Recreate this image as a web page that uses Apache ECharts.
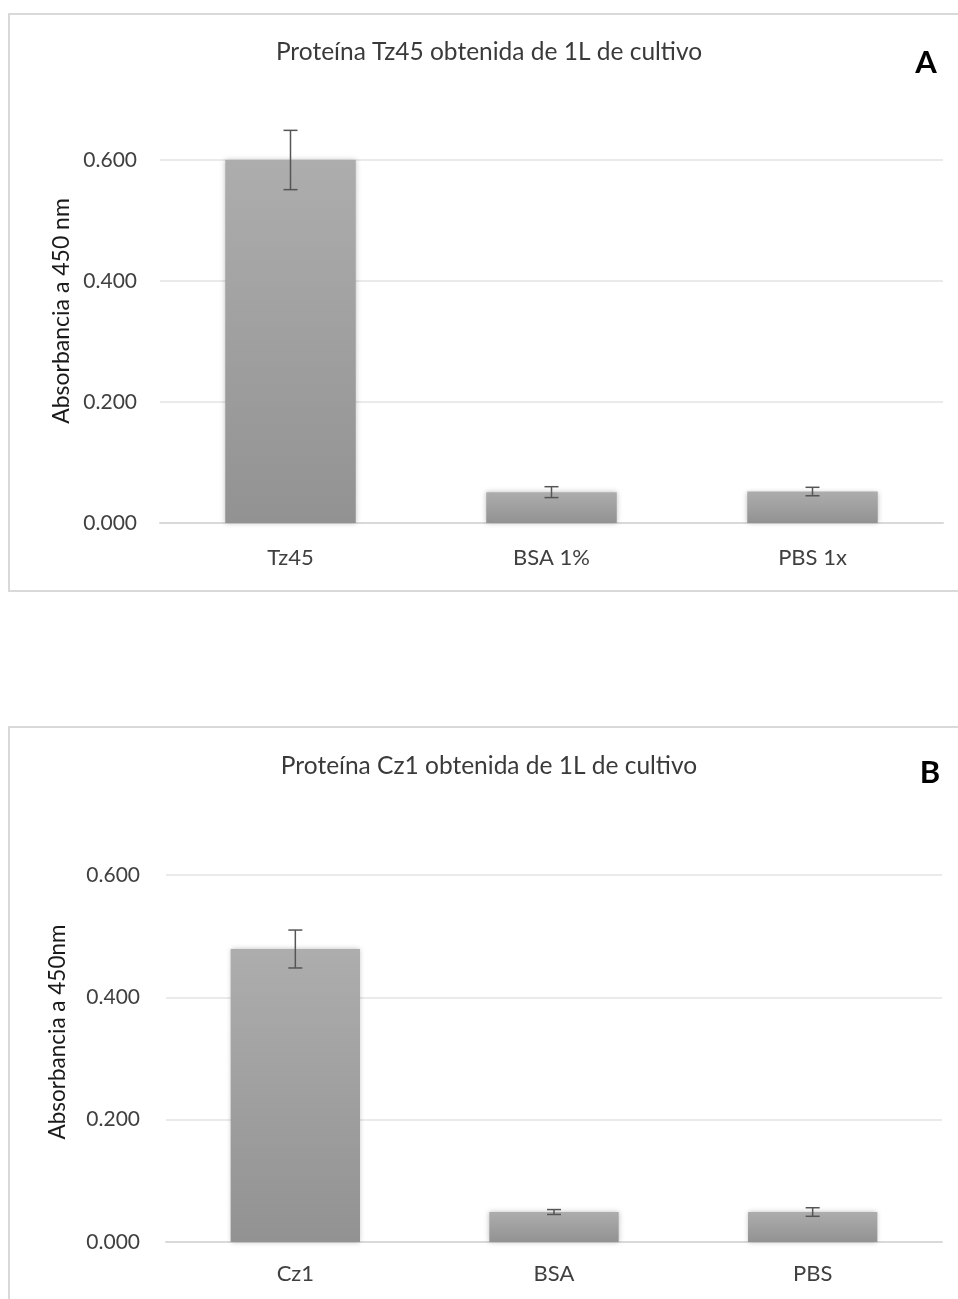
<!DOCTYPE html>
<html>
<head>
<meta charset="utf-8">
<script src="https://cdn.jsdelivr.net/npm/echarts@6/dist/echarts.min.js"></script>
<style>
  html, body { margin: 0; padding: 0; background: #fff; }
  #main { width: 958px; height: 1299px; }
</style>
</head>
<body>
<div id="main"></div>
<script>
// datos
var catsA = ['Tz45', 'BSA 1%', 'PBS 1x'];
var meanA = [0.600, 0.051, 0.052];
var errA = [0.049, 0.009, 0.007];

var catsB = ['Cz1', 'BSA', 'PBS'];
var meanB = [0.479, 0.049, 0.049];
var errB = [0.031, 0.004, 0.007];

var yTicks = [0, 0.2, 0.4, 0.6];

var FONT = 'Lato, "Liberation Sans", sans-serif';
var TXT = '#404040';

var chart = echarts.init(document.getElementById('main'));

function errData(mean, err) {
	return mean.map(function (m, i) { return [i, m, err[i]]; });
}

function renderErr(params, api) {
	var i = api.value(0), m = api.value(1), e = api.value(2);
	var top = api.coord([i, m + e]);
	var bot = api.coord([i, m - e]);
	var cap = 7;
	var st = { stroke: '#555', lineWidth: 1.5 };
	return {
		type: 'group',
		children: [
			{ type: 'line', shape: { x1: top[0], y1: top[1], x2: bot[0], y2: bot[1] }, style: st },
			{ type: 'line', shape: { x1: top[0] - cap, y1: top[1], x2: top[0] + cap, y2: top[1] }, style: st },
			{ type: 'line', shape: { x1: bot[0] - cap, y1: bot[1], x2: bot[0] + cap, y2: bot[1] }, style: st }
		]
	};
}

var barStyle = {
	color: new echarts.graphic.LinearGradient(0, 0, 0, 1, [
		{ offset: 0, color: '#adadad' },
		{ offset: 1, color: '#929292' }
	]),
	shadowBlur: 5,
	shadowColor: 'rgba(0,0,0,0.25)'
};

function xAxisCfg(idx, cats, margin) {
	return {
		type: 'category',
		gridIndex: idx,
		data: cats,
		axisTick: { show: false },
		axisLine: { lineStyle: { color: '#d9d9d9', width: 2 } },
		axisLabel: { color: TXT, fontFamily: FONT, fontSize: 22, margin: margin }
	};
}

function yAxisCfg(idx, margin) {
	return {
		type: 'value',
		gridIndex: idx,
		min: yTicks[0],
		max: yTicks[yTicks.length - 1],
		interval: 0.2,
		axisLine: { show: false },
		axisTick: { show: false },
		splitLine: { lineStyle: { color: '#e3e3e3', width: 1.5 } },
		axisLabel: {
			color: TXT, fontFamily: FONT, fontSize: 21, margin: margin,
			formatter: function (v) { return v.toFixed(3); }
		}
	};
}

chart.setOption({
	animation: false,
	grid: [
		{ left: 160, right: 15, top: 160, bottom: 776 },
		{ left: 166, right: 16, top: 875, bottom: 57 }
	],
	xAxis: [xAxisCfg(0, catsA, 24), xAxisCfg(1, catsB, 21)],
	yAxis: [yAxisCfg(0, 23), yAxisCfg(1, 26)],
	graphic: [
		// marcos
		{ type: 'rect', shape: { x: 9, y: 14, width: 960, height: 577 }, style: { fill: 'none', stroke: '#d9d9d9', lineWidth: 2 }, silent: true },
		{ type: 'rect', shape: { x: 9, y: 727, width: 960, height: 600 }, style: { fill: 'none', stroke: '#d9d9d9', lineWidth: 2 }, silent: true },
		// titulos
		{ type: 'text', x: 489, y: 52, style: { text: 'Proteína Tz45 obtenida de 1L de cultivo', fill: '#3a3a3a', font: '24.5px ' + FONT, textAlign: 'center', textVerticalAlign: 'middle' } },
		{ type: 'text', x: 489, y: 766, style: { text: 'Proteína Cz1 obtenida de 1L de cultivo', fill: '#3a3a3a', font: '24.5px ' + FONT, textAlign: 'center', textVerticalAlign: 'middle' } },
		{ type: 'text', x: 926, y: 63, style: { text: 'A', fill: '#000', font: 'bold 31px ' + FONT, textAlign: 'center', textVerticalAlign: 'middle' } },
		{ type: 'text', x: 930, y: 773, style: { text: 'B', fill: '#000', font: 'bold 31px ' + FONT, textAlign: 'center', textVerticalAlign: 'middle' } },
		// nombres de eje Y
		{ type: 'text', x: 62, y: 311, rotation: Math.PI / 2, style: { text: 'Absorbancia a 450 nm', fill: '#1a1a1a', font: '23px ' + FONT, textAlign: 'center', textVerticalAlign: 'middle' } },
		{ type: 'text', x: 58, y: 1032, rotation: Math.PI / 2, style: { text: 'Absorbancia a 450nm', fill: '#1a1a1a', font: '22.5px ' + FONT, textAlign: 'center', textVerticalAlign: 'middle' } }
	],
	series: [
		{ type: 'bar', xAxisIndex: 0, yAxisIndex: 0, data: meanA, barWidth: '50%', itemStyle: barStyle },
		{ type: 'custom', xAxisIndex: 0, yAxisIndex: 0, data: errData(meanA, errA), renderItem: renderErr, clip: false, z: 5 },
		{ type: 'bar', xAxisIndex: 1, yAxisIndex: 1, data: meanB, barWidth: '50%', itemStyle: barStyle },
		{ type: 'custom', xAxisIndex: 1, yAxisIndex: 1, data: errData(meanB, errB), renderItem: renderErr, clip: false, z: 5 }
	]
});
</script>
</body>
</html>
